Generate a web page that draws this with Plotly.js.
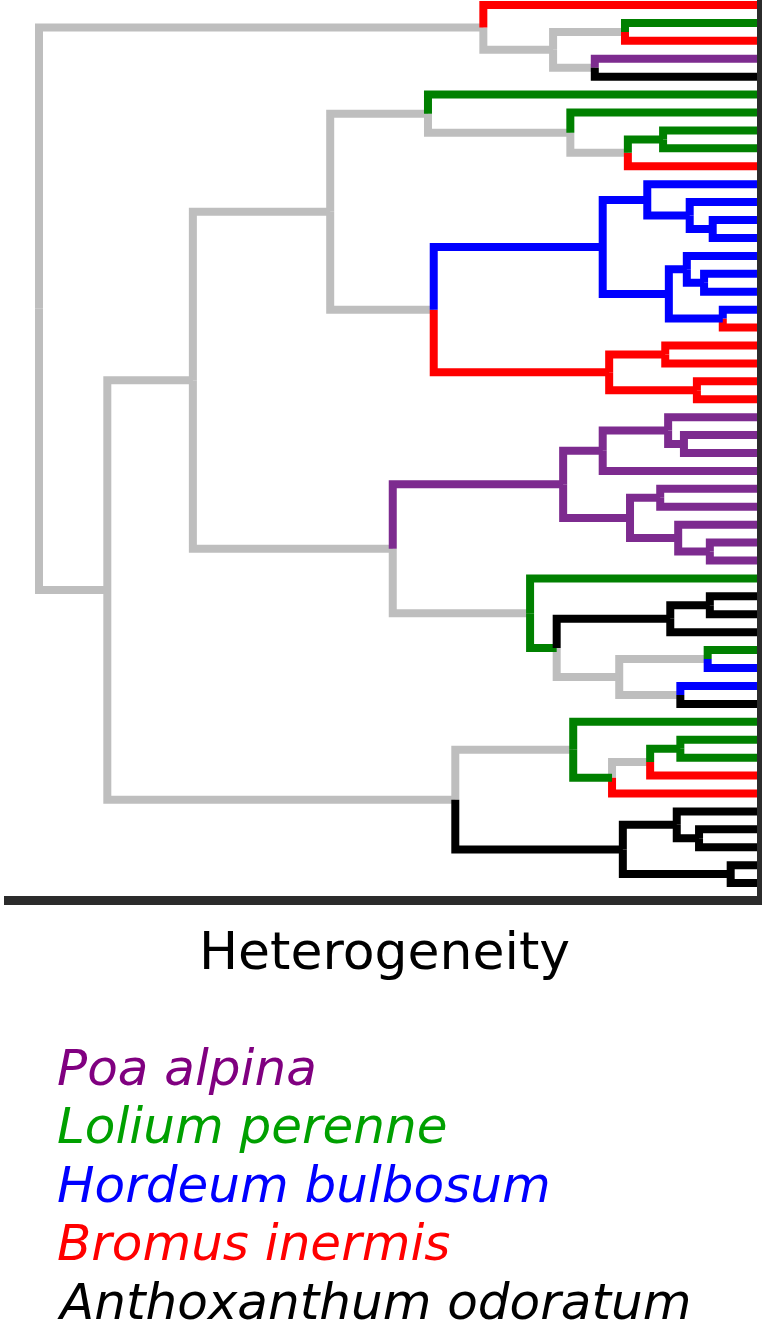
<!DOCTYPE html>
<html><head><meta charset="utf-8">
<script src="https://cdn.plot.ly/plotly-3.0.1.min.js"></script>
<style>html,body{margin:0;padding:0;background:#fff;} #chart{width:768px;height:1331px;}</style>
</head><body><div id="chart"></div>
<script>
// ---------------- DATA ----------------
// species codes and legend names
const speciesCodes = ['P', 'L', 'H', 'B', 'A'];
const speciesNames = ['Poa alpina', 'Lolium perenne', 'Hordeum bulbosum', 'Bromus inermis', 'Anthoxanthum odoratum'];
// species of each leaf, top to bottom
const leafSpecies = ['B','L','B','P','A','L','L','L','L','B',
                     'H','H','H','H','H','H','H','H','B','B',
                     'B','B','B','P','P','P','P','P','P','P',
                     'P','P','L','A','A','A','L','H','H','A',
                     'L','L','L','B','B','A','A','A','A','A'];
// merges (linkage): child index < 50 = leaf, >= 50 = merge (index - 50)
const mergeLeft   = [1, 3, 50, 0, 7, 54, 6, 5, 12, 11, 10, 15, 14, 17, 62, 60, 19, 21, 66, 65, 57,
                     24, 23, 72, 27, 30, 29, 74, 73, 33, 79, 36, 38, 81, 80, 32, 78, 70,
                     41, 88, 89, 40, 46, 45, 48, 93, 91, 87, 53];
const mergeRight  = [2, 4, 51, 52, 8, 9, 55, 56, 13, 58, 59, 16, 61, 18, 63, 64, 20, 22, 67, 68, 69,
                     25, 71, 26, 28, 31, 75, 76, 77, 34, 35, 37, 39, 82, 83, 84, 85, 86,
                     42, 43, 44, 90, 47, 92, 49, 94, 95, 96, 97];
// merge heights (heterogeneity, root = 100)
const mergeHeight = [18.5, 22.7, 28.5, 38.2, 13.2, 18.1, 26.1, 45.9, 6.3, 9.5, 15.4, 7.5, 9.9, 4.9, 12.4, 21.6,
                     12.9, 8.5, 20.7, 45.1, 59.5,
                     10.3, 12.5, 21.6, 13.6, 6.7, 11.1, 17.8, 27.1, 6.7, 12.2, 7.0, 10.8, 19.3, 28.0, 31.7, 50.8, 78.6,
                     10.8, 15.0, 20.3, 25.7, 8.2, 11.3, 3.8, 18.8, 42.1, 90.5, 100];
// species assigned to each merge's branch ('-' = mixed)
const mergeSpecies = ['-', '-', '-', '-', 'L', '-', '-', '-', 'H', 'H', 'H', 'H', 'H', 'H', 'H', 'H',
                      'B', 'B', 'B', '-', '-',
                      'P', 'P', 'P', 'P', 'P', 'P', 'P', 'P', 'A', 'A', '-', '-', '-', 'L', '-', '-', '-',
                      'L', '-', 'L', '-', 'A', 'A', 'A', 'A', '-', '-', '-'];
const axisTitle = 'Heterogeneity';

// ---------------- STYLE ----------------
const branchColor = {P: '#7D2B8F', L: '#008000', H: '#0000FF', B: '#FF0000', A: '#000000', '-': '#BEBEBE'};
const legendColor = {P: '#800080', L: '#00A000', H: '#0000FF', B: '#FF0000', A: '#000000'};
const W = 768, H = 1331;
const xPixRoot = 39, xPixLeaf = 758;
const yPixFirst = 5, yPixStep = 17.92;
const FONT = 'DejaVu Sans, Liberation Sans, Arial, sans-serif';

// ---------------- LAYOUT OF TREE ----------------
const nLeaves = leafSpecies.length;
const nodeY = [], nodeH = [], nodeSp = [];
for (let i = 0; i < nLeaves; i++) { nodeY.push(i); nodeH.push(0); nodeSp.push(leafSpecies[i]); }
for (let k = 0; k < mergeLeft.length; k++) {
  nodeY.push((nodeY[mergeLeft[k]] + nodeY[mergeRight[k]]) / 2);
  nodeH.push(mergeHeight[k]);
  nodeSp.push(mergeSpecies[k]);
}
const segs = {};
Object.keys(branchColor).forEach(c => segs[c] = {x: [], y: []});
for (let k = 0; k < mergeLeft.length; k++) {
  const m = nLeaves + k;
  [mergeLeft[k], mergeRight[k]].forEach(c => {
    const s = segs[nodeSp[c]];
    s.x.push(nodeH[c], nodeH[m], nodeH[m], null);
    s.y.push(nodeY[c], nodeY[c], nodeY[m], null);
  });
}
const order = ['-', 'B', 'L', 'H', 'P', 'A'];
const traces = order.map(c => ({
  type: 'scatter', mode: 'lines', x: segs[c].x, y: segs[c].y,
  line: {color: branchColor[c], width: 8, shape: 'linear'},
  hoverinfo: 'skip', showlegend: false, connectgaps: false
}));

const hMax = Math.max(...mergeHeight);
const pxPerH = (xPixLeaf - xPixRoot) / hMax;
const xRange = [hMax + xPixRoot / pxPerH, -(W - xPixLeaf) / pxPerH];
const yRange = [(H - yPixFirst) / yPixStep, -yPixFirst / yPixStep];

const px = v => v / W, py = v => 1 - v / H;
const annotations = [{
  text: axisTitle, xref: 'paper', yref: 'paper', x: px(384.5), y: py(951),
  xanchor: 'center', yanchor: 'middle', showarrow: false,
  font: {family: FONT, size: 52, color: '#000'}
}];
speciesNames.forEach((name, i) => {
  annotations.push({
    text: '<i>' + name + '</i>', xref: 'paper', yref: 'paper', x: px(55), y: py(1067.5 + 58.5 * i),
    xanchor: 'left', yanchor: 'middle', showarrow: false,
    font: {family: FONT, size: 50, color: legendColor[speciesCodes[i]]}
  });
});

const shapes = [
  {type: 'line', xref: 'paper', yref: 'paper', x0: px(759.5), x1: px(759.5), y0: py(0), y1: py(905),
   line: {color: '#2B2B2B', width: 5}},
  {type: 'line', xref: 'paper', yref: 'paper', x0: px(4), x1: px(762), y0: py(900.5), y1: py(900.5),
   line: {color: '#2B2B2B', width: 9}}
];

const layout = {
  width: W, height: H, margin: {l: 0, r: 0, t: 0, b: 0},
  paper_bgcolor: '#fff', plot_bgcolor: '#fff',
  xaxis: {range: xRange, visible: false, showgrid: false, zeroline: false, fixedrange: true},
  yaxis: {range: yRange, visible: false, showgrid: false, zeroline: false, fixedrange: true},
  shapes: shapes, annotations: annotations, showlegend: false
};
Plotly.newPlot('chart', traces, layout, {displayModeBar: false, staticPlot: true});
</script>
</body></html>
